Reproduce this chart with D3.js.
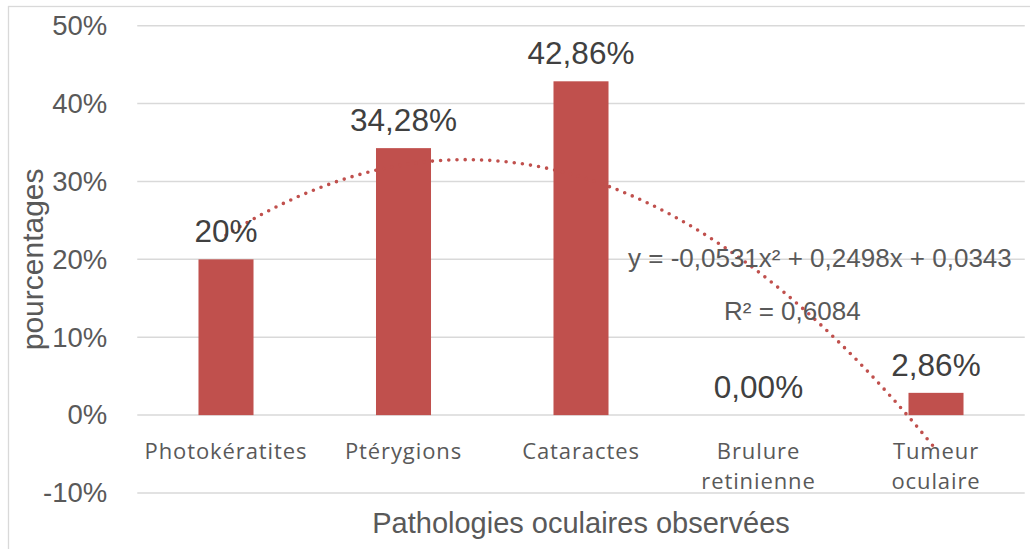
<!DOCTYPE html>
<html>
<head>
<meta charset="utf-8">
<title>Pathologies oculaires</title>
<style>
  body { margin: 0; background: #fff; }
  svg { display: block; }
</style>
</head>
<body>
<svg width="1030" height="549"></svg>
<script src="https://cdnjs.cloudflare.com/ajax/libs/d3/7.8.5/d3.min.js"></script>
<script>
// data
var categories = ["Photokératites", "Ptérygions", "Cataractes", "Brulure retinienne", "Tumeur oculaire"];
var values = [0.20, 0.3428, 0.4286, 0.0, 0.0286];
var valueLabels = ["20%", "34,28%", "42,86%", "0,00%", "2,86%"];
var yTicks = [-0.1, 0, 0.1, 0.2, 0.3, 0.4, 0.5];
var yTickLabels = ["-10%", "0%", "10%", "20%", "30%", "40%", "50%"];
// polynomial trendline shown on the chart (order 2)
var trendCoef = [-0.0531, 0.2498, 0.0343];
var trendText = ["y = -0,0531x² + 0,2498x + 0,0343", "R² = 0,6084"];

var svg = d3.select("svg");
var margin = { top: 25.7, left: 137.25, right: 5.25, bottom: 56 };
var width = 1030 - margin.left - margin.right;
var height = 549 - margin.top - margin.bottom;

// outer chart border
svg.append("rect")
  .attr("x", 8.5).attr("y", 6.5)
  .attr("width", 1040).attr("height", 560)
  .attr("fill", "none")
  .attr("stroke", "#d9d9d9")
  .attr("stroke-width", 1.3);

var g = svg.append("g")
  .attr("transform", "translate(" + margin.left + "," + margin.top + ")");

var x = d3.scaleBand()
  .domain(categories)
  .range([0, width])
  .paddingInner(0.69)
  .paddingOuter(0.345);

var y = d3.scaleLinear()
  .domain([-0.1, 0.5])
  .range([height, 0]);

// gridlines
g.selectAll(".grid")
  .data(yTicks)
  .enter().append("line")
  .attr("x1", 0).attr("x2", width)
  .attr("y1", function(d) { return y(d); })
  .attr("y2", function(d) { return y(d); })
  .attr("stroke", "#d9d9d9")
  .attr("stroke-width", 1.5);

// y axis labels
var yAxis = g.append("g")
  .call(d3.axisLeft(y).tickValues(yTicks).tickSize(0).tickPadding(30)
    .tickFormat(function(d, i) { return yTickLabels[i]; }));
yAxis.select(".domain").remove();
yAxis.selectAll("text")
  .attr("fill", "#595959")
  .style("font-family", "'Liberation Sans', Arial, sans-serif")
  .style("font-size", "27.5px");

// bars
g.selectAll(".bar")
  .data(values)
  .enter().append("rect")
  .attr("class", "bar")
  .attr("x", function(d, i) { return x(categories[i]); })
  .attr("width", x.bandwidth())
  .attr("y", function(d) { return y(Math.max(d, 0)); })
  .attr("height", function(d) { return Math.abs(y(d) - y(0)); })
  .attr("fill", "#c0504d");

// trendline
var xc = function(i) { return x(categories[i]) + x.bandwidth() / 2; };
var trendPts = d3.range(0, 4.001, 0.05).map(function(t) {
  var xv = t + 1;
  return [xc(0) + t * x.step(), y(trendCoef[0] * xv * xv + trendCoef[1] * xv + trendCoef[2])];
});
g.append("path")
  .datum(trendPts)
  .attr("d", d3.line().curve(d3.curveBasis))
  .attr("fill", "none")
  .attr("stroke", "#c0504d")
  .attr("stroke-width", 3.6)
  .attr("stroke-linecap", "round")
  .attr("stroke-dasharray", "0,8.2");

// value labels
g.selectAll(".vlabel")
  .data(values)
  .enter().append("text")
  .attr("x", function(d, i) { return xc(i); })
  .attr("y", function(d) { return y(Math.max(d, 0)) - 17; })
  .attr("text-anchor", "middle")
  .attr("fill", "#404040")
  .style("font-family", "'Liberation Sans', Arial, sans-serif")
  .style("font-size", "31.5px")
  .text(function(d, i) { return valueLabels[i]; });

// category labels (wrapped on spaces)
var cat = g.selectAll(".cat")
  .data(categories)
  .enter().append("text")
  .attr("text-anchor", "middle")
  .attr("fill", "#595959")
  .style("font-family", "'Open Sans', sans-serif")
  .style("font-size", "22px")
  .style("letter-spacing", "0.9px");
cat.each(function(d, i) {
  var words = d.split(" ");
  var t = d3.select(this);
  words.forEach(function(w, j) {
    t.append("tspan")
      .attr("x", xc(i))
      .attr("y", y(0) + 44 + j * 30)
      .text(w);
  });
});

// trendline equation
var eq = g.append("text")
  .attr("fill", "#595959")
  .style("font-family", "'Liberation Sans', Arial, sans-serif")
  .style("font-size", "26px");
eq.append("tspan")
  .attr("x", xc(3) - 130.5).attr("y", y(0.2) + 8)
  .text(trendText[0]);
eq.append("tspan")
  .attr("x", xc(3) - 34.5).attr("y", y(0.2) + 61)
  .text(trendText[1]);

// axis titles
svg.append("text")
  .attr("transform", "translate(43," + (margin.top + height / 2) + ") rotate(-90)")
  .attr("text-anchor", "middle")
  .attr("fill", "#595959")
  .style("font-family", "'Liberation Sans', Arial, sans-serif")
  .style("font-size", "30px")
  .text("pourcentages");

svg.append("text")
  .attr("x", margin.left + width / 2)
  .attr("y", 533)
  .attr("text-anchor", "middle")
  .attr("fill", "#595959")
  .style("font-family", "'Liberation Sans', Arial, sans-serif")
  .style("font-size", "29px")
  .text("Pathologies oculaires observées");
</script>
</body>
</html>
